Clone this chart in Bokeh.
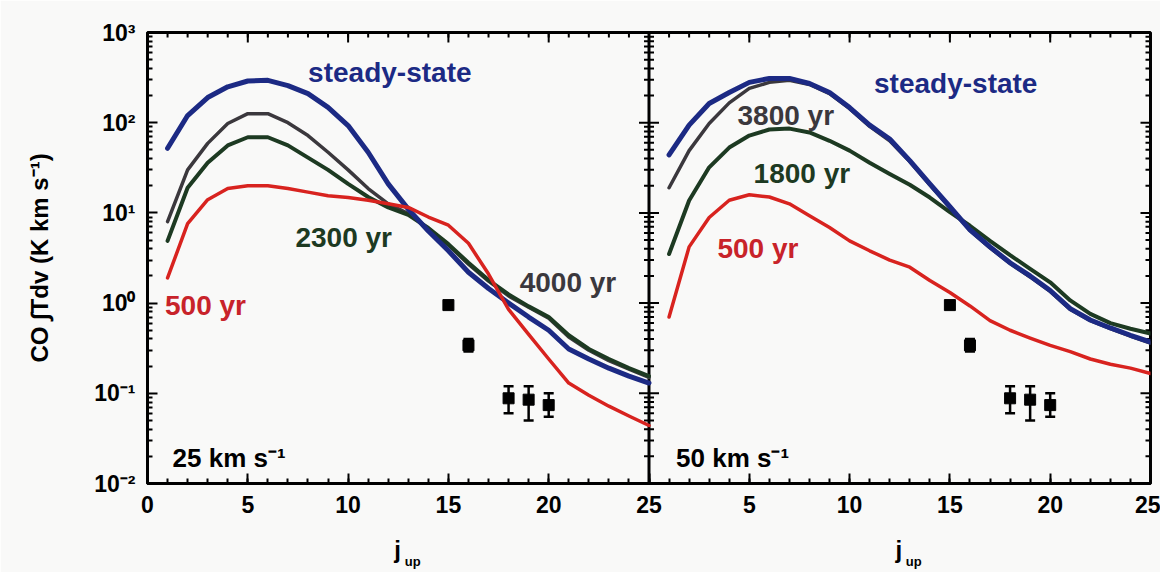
import math
from bokeh.plotting import figure
from bokeh.models import (ColumnDataSource, FixedTicker, LinearAxis, Label, Whisker,
                          TeeHead, Range1d)
from bokeh.embed import file_html
from bokeh.resources import INLINE

# ---------------- data ----------------
J = list(range(1, 26))
PANEL_OFFSET = 25  # second panel drawn to the right of the first (x + 25)

# 25 km/s panel
v25_steady = [52, 120, 190, 250, 290, 295, 258, 210, 148, 93, 47, 21, 11,
              6.3, 3.8, 2.2, 1.45, 1.0, 0.7, 0.5, 0.31, 0.24, 0.19, 0.155, 0.13]
v25_4000 = [8, 30, 59, 98, 126, 126, 100, 72, 47, 30, 18.6, 12.6, 9.8,
            6.7, 4.4, 2.7, 1.75, 1.2, 0.9, 0.68, 0.42, 0.3, 0.23, 0.185, 0.15]
v25_2300 = [4.9, 19, 36, 56, 69, 69, 56, 41, 30, 21, 15, 11.5, 9.5,
            6.8, 4.5, 2.8, 1.8, 1.25, 0.92, 0.7, 0.44, 0.31, 0.24, 0.19, 0.155]
v25_500 = [1.9, 7.6, 14, 18.6, 20, 20, 18.6, 17, 15.5, 14.8, 13.8, 12.6, 11.5,
           9.0, 7.3, 4.6, 2.1, 0.85, 0.45, 0.24, 0.13, 0.095, 0.072, 0.056, 0.044]

# 50 km/s panel
v50_steady = [44, 94, 163, 216, 280, 310, 310, 272, 216, 147, 94, 66, 38,
              21, 11.7, 6.5, 4.2, 2.8, 2.0, 1.38, 0.87, 0.65, 0.53, 0.44, 0.37]
v50_3800 = [19, 49, 98, 166, 240, 280, 295, 265, 210, 143, 91, 63, 37,
            20.5, 11.5, 6.4, 4.1, 2.75, 1.95, 1.35, 0.85, 0.64, 0.52, 0.43, 0.36]
v50_1800 = [3.5, 13.7, 32, 53, 72, 84, 86, 78, 63, 49, 36, 27, 20.5,
            14.8, 10.2, 7.2, 4.9, 3.4, 2.4, 1.7, 1.07, 0.76, 0.6, 0.52, 0.46]
v50_500 = [0.7, 4.2, 8.9, 13.8, 15.9, 15, 12.6, 9.3, 6.9, 4.9, 3.8, 3.0, 2.5,
           1.78, 1.31, 0.93, 0.64, 0.5, 0.41, 0.34, 0.29, 0.24, 0.21, 0.19, 0.166]

# observations
obs_j = [15, 16, 18, 19, 20]
obs_val = [0.95, 0.34, 0.088, 0.085, 0.074]
obs_lo = [0.95, 0.29, 0.060, 0.050, 0.055]
obs_hi = [0.95, 0.40, 0.12, 0.12, 0.10]

# axes
X_TICKS = [0, 5, 10, 15, 20, 25, 30, 35, 40, 45, 50]
X_TICK_LABELS = ["0", "5", "10", "15", "20", "25", "5", "10", "15", "20", "25"]
Y_TICKS = [1e-2, 1e-1, 1e0, 1e1, 1e2, 1e3]
Y_TICK_LABELS = ["10\u207b\u00b2", "10\u207b\u00b9", "10\u2070", "10\u00b9", "10\u00b2", "10\u00b3"]
Y_TITLE = "CO \u222bTdv (K km s\u207b\u00b9)"
X_TITLE_MAIN = "j"
X_TITLE_SUB = "up"

# ---------------- styles ----------------
C_BLUE = "#1c2a84"
C_GRAY = "#3b383d"
C_GREEN = "#1d3a22"
C_RED = "#d8231f"
C_RED_TXT = "#c8232a"
BG = "#f9f9f8"
FONT = "Liberation Sans"

p = figure(width=1160, height=572, x_range=Range1d(0, 50), y_range=Range1d(1e-2, 1e3),
           y_axis_type="log", output_backend="svg", toolbar_location=None,
           min_border_left=147, min_border_right=10, min_border_top=32, min_border_bottom=89,
           background_fill_color=BG, border_fill_color=BG)
p.grid.visible = False
p.outline_line_color = "black"
p.outline_line_width = 3

x_minor = list(range(0, 51))
y_minor = [m * 10.0 ** k for k in range(-2, 3) for m in range(2, 10)]
xticker = FixedTicker(ticks=X_TICKS, minor_ticks=x_minor)
yticker = FixedTicker(ticks=Y_TICKS, minor_ticks=y_minor)

for ax in (p.xaxis[0], p.yaxis[0]):
    ax.axis_line_width = 3
    ax.axis_line_color = "black"
    ax.major_tick_in = 10
    ax.major_tick_out = 0
    ax.minor_tick_in = 5
    ax.minor_tick_out = 0
    ax.major_tick_line_width = 2
    ax.minor_tick_line_width = 2
    ax.major_tick_line_color = "black"
    ax.minor_tick_line_color = "black"
    ax.major_label_text_font = FONT
    ax.major_label_text_font_style = "bold"
    ax.major_label_text_font_size = "23px"
    ax.major_label_text_color = "black"
    ax.major_label_standoff = 12

p.xaxis[0].ticker = xticker
p.xaxis[0].major_label_overrides = {t: s for t, s in zip(X_TICKS, X_TICK_LABELS)}
p.yaxis[0].ticker = yticker
p.yaxis[0].major_label_overrides = {t: s for t, s in zip(Y_TICKS, Y_TICK_LABELS)}
p.yaxis[0].axis_label = Y_TITLE
p.yaxis[0].axis_label_text_font = FONT
p.yaxis[0].axis_label_text_font_style = "bold"
p.yaxis[0].axis_label_text_font_size = "24px"
p.yaxis[0].axis_label_text_color = "black"
p.yaxis[0].axis_label_standoff = 38

# x titles "j_up" under each panel, built from two label-only axes
panel_centres = [12.47, PANEL_OFFSET + 12.45]


def title_axis(xs, text, size, standoff):
    ax = LinearAxis(ticker=FixedTicker(ticks=xs, minor_ticks=[]),
                    major_label_overrides={x: text for x in xs})
    ax.axis_line_color = None
    ax.major_tick_line_color = None
    ax.minor_tick_line_color = None
    ax.major_tick_in = 0
    ax.major_tick_out = 0
    ax.major_label_text_font = FONT
    ax.major_label_text_font_style = "bold"
    ax.major_label_text_font_size = size
    ax.major_label_text_color = "black"
    ax.major_label_standoff = standoff
    p.add_layout(ax, "below")


title_axis(panel_centres, X_TITLE_MAIN, "24px", 20)
title_axis([c + 0.75 for c in panel_centres], X_TITLE_SUB, "13px", -12)

# inward ticks on top and right edges (half of each dash is clipped by the frame)
y_top = Y_TICKS[-1]
x_right = X_TICKS[-1]
p.scatter(X_TICKS, [y_top] * len(X_TICKS), marker="dash", angle=math.pi / 2, size=20,
          line_color="black", line_width=2)
p.scatter(x_minor, [y_top] * len(x_minor), marker="dash", angle=math.pi / 2, size=10,
          line_color="black", line_width=2)
p.scatter([x_right] * len(Y_TICKS), Y_TICKS, marker="dash", size=20,
          line_color="black", line_width=2)
p.scatter([x_right] * len(y_minor), y_minor, marker="dash", size=10,
          line_color="black", line_width=2)

# panel divider with ticks on both sides
p.segment(x0=[PANEL_OFFSET], y0=[Y_TICKS[0]], x1=[PANEL_OFFSET], y1=[Y_TICKS[-1]],
          line_color="black", line_width=3)
p.scatter([PANEL_OFFSET] * len(Y_TICKS), Y_TICKS, marker="dash", size=20,
          line_color="black", line_width=2)
p.scatter([PANEL_OFFSET] * len(y_minor), y_minor, marker="dash", size=10,
          line_color="black", line_width=2)

# ---------------- curves ----------------
J2 = [j + PANEL_OFFSET for j in J]
for xs, ys, col, lw in [
    (J, v25_4000, C_GRAY, 3.5), (J, v25_2300, C_GREEN, 4), (J, v25_steady, C_BLUE, 5),
    (J, v25_500, C_RED, 3.5),
    (J2, v50_3800, C_GRAY, 3.5), (J2, v50_1800, C_GREEN, 4), (J2, v50_steady, C_BLUE, 5),
    (J2, v50_500, C_RED, 3.5)]:
    p.line(xs, ys, line_color=col, line_width=lw, line_join="round", line_cap="round")

# ---------------- observations ----------------
for off in (0, PANEL_OFFSET):
    xs = [j + off for j in obs_j]
    p.scatter(xs, obs_val, marker="square", size=11, color="black")
    err = [(x, lo, hi) for x, lo, hi in zip(xs, obs_lo, obs_hi) if hi > lo]
    src = ColumnDataSource(dict(x=[e[0] for e in err], lo=[e[1] for e in err],
                                hi=[e[2] for e in err]))
    p.add_layout(Whisker(source=src, base="x", lower="lo", upper="hi", dimension="height",
                         line_color="black", line_width=2.5,
                         lower_head=TeeHead(size=10, line_width=2.5, line_color="black"),
                         upper_head=TeeHead(size=10, line_width=2.5, line_color="black")))

# ---------------- text inside the panels ----------------
def label(x, logy, text, color, size="28px", align="center"):
    p.add_layout(Label(x=x, y=10 ** logy, text=text, text_color=color, text_font=FONT,
                       text_font_style="bold", text_font_size=size, text_align=align,
                       text_baseline="middle"))


label(12.08, 2.556, "steady-state", C_BLUE)
label(9.78, 0.727, "2300 yr", C_GREEN)
label(20.96, 0.228, "4000 yr", C_GRAY)
label(2.89, -0.027, "500 yr", C_RED_TXT)
label(1.25, -1.712, "25 km s\u207b\u00b9", "black", size="26px", align="left")

label(PANEL_OFFSET + 15.29, 2.435, "steady-state", C_BLUE)
label(PANEL_OFFSET + 6.82, 2.08, "3800 yr", C_GRAY)
label(PANEL_OFFSET + 7.62, 1.437, "1800 yr", C_GREEN)
label(PANEL_OFFSET + 5.43, 0.605, "500 yr", C_RED_TXT)
label(PANEL_OFFSET + 1.35, -1.712, "50 km s\u207b\u00b9", "black", size="26px", align="left")

open("out.html", "w").write(file_html(p, INLINE))
